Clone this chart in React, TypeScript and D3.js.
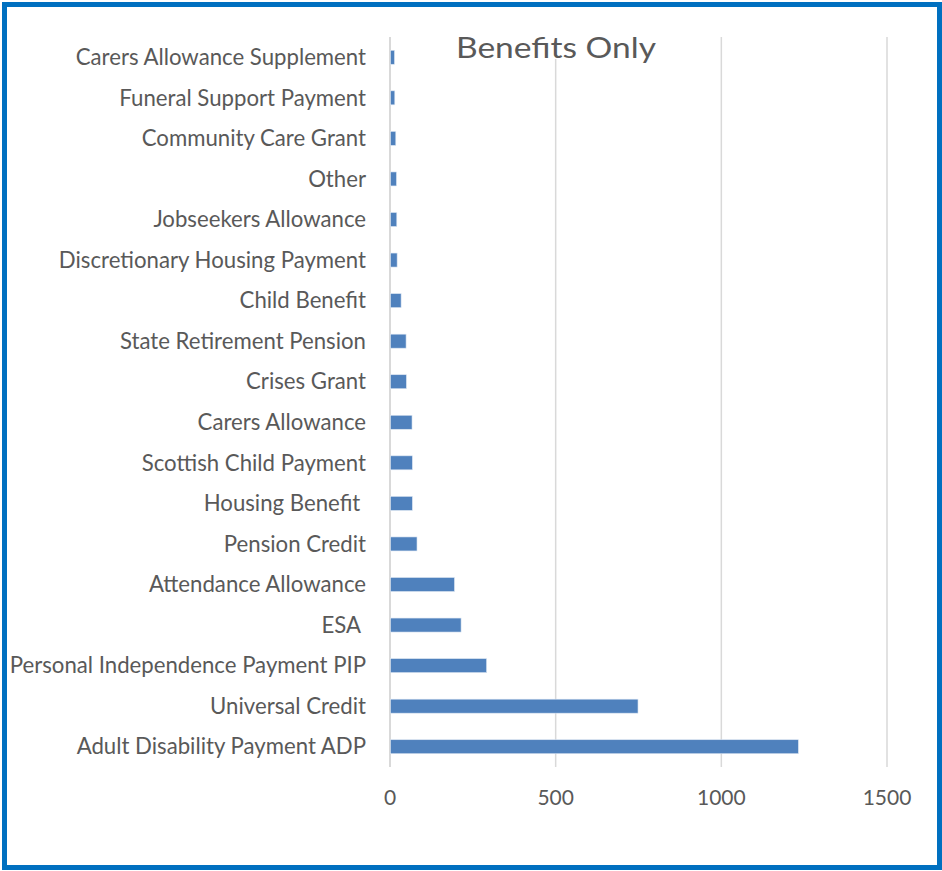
import React from "react";
import * as d3 from "d3";

const categories = [
  "Carers Allowance Supplement",
  "Funeral Support Payment",
  "Community Care Grant",
  "Other",
  "Jobseekers Allowance",
  "Discretionary Housing Payment",
  "Child Benefit",
  "State Retirement Pension",
  "Crises Grant",
  "Carers Allowance",
  "Scottish Child Payment",
  "Housing Benefit ",
  "Pension Credit",
  "Attendance Allowance",
  "ESA ",
  "Personal Independence Payment PIP",
  "Universal Credit",
  "Adult Disability Payment ADP",
];
const values = [12, 13, 16, 18, 19, 20, 32, 47, 48, 65, 66, 66, 80, 193, 213, 290, 747, 1231];
const ticks = [0, 500, 1000, 1500];
const title = "Benefits Only";

const W = 942;
const H = 871;
const FONT = "Lato, 'Open Sans', sans-serif";
const TEXT = "#595959";

export default function App() {
  const x = d3.scaleLinear().domain([0, 1500]).range([390, 887]);
  const inner = 0.655;
  const y = d3
    .scaleBand<string>()
    .domain(categories)
    .range([37, 767])
    .paddingInner(inner)
    .paddingOuter(inner / 2);

  return (
    <svg
      width={W}
      height={H}
      style={{ position: "absolute", left: 0, top: 0, background: "#fff" }}
    >
      <rect x={0} y={0} width={W} height={H} fill="#fff" />
      {ticks.map((t) => (
        <line
          key={t}
          x1={x(t)}
          x2={x(t)}
          y1={37}
          y2={767}
          stroke="#d9d9d9"
          strokeWidth={t === 0 ? 2 : 1.5}
        />
      ))}
      <rect x={452} y={30} width={208} height={29} fill="#fff" />
      <text
        x={556}
        y={58}
        textAnchor="middle"
        fontFamily={FONT}
        fontSize={29}
        fill={TEXT}
        textLength={200}
        lengthAdjust="spacingAndGlyphs"
      >
        {title}
      </text>
      {categories.map((c, i) => (
        <rect
          key={c}
          x={x(0) + 0.5}
          y={y(c)}
          width={x(values[i]) - x(0)}
          height={y.bandwidth()}
          fill="#4f81bd"
          stroke="#dce6f2"
          strokeWidth={0.6}
        />
      ))}
      {categories.map((c) => (
        <text
          key={c}
          x={366}
          y={(y(c) as number) + y.bandwidth() / 2}
          dy="0.35em"
          textAnchor="end"
          fontFamily={FONT}
          fontSize={22.2}
          fill={TEXT}
          style={{ whiteSpace: "pre" }}
        >
          {c}
        </text>
      ))}
      {ticks.map((t) => (
        <text
          key={t}
          x={x(t)}
          y={798}
          dy="0.35em"
          textAnchor="middle"
          fontFamily={FONT}
          fontSize={21}
          fill={TEXT}
        >
          {t}
        </text>
      ))}
      <rect
        x={4.5}
        y={4.5}
        width={935}
        height={863}
        fill="none"
        stroke="#0070c0"
        strokeWidth={5}
      />
    </svg>
  );
}
